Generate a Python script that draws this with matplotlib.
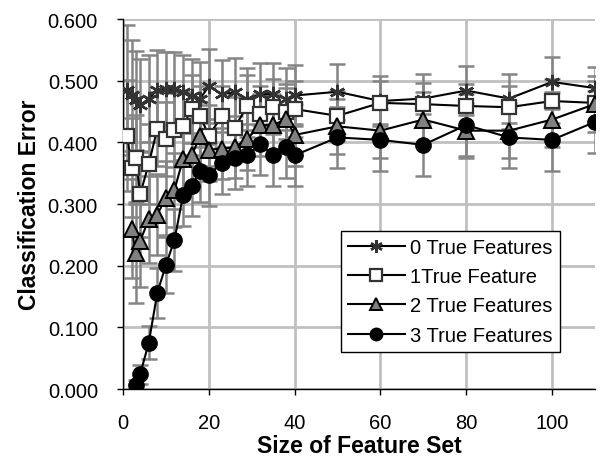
import matplotlib
matplotlib.use("Agg")
import matplotlib.pyplot as plt

plt.rcParams['font.family'] = ['Liberation Sans', 'DejaVu Sans']

x_all = [1, 2, 3, 4, 6, 8, 10, 12, 14, 16, 18, 20, 23, 26, 29, 32, 35, 38, 40,
         50, 60, 70, 80, 90, 100, 110]

y0 = [0.485, 0.476, 0.468, 0.460, 0.471, 0.485, 0.486, 0.486, 0.481, 0.475, 0.471,
      0.491, 0.478, 0.481, 0.470, 0.478, 0.478, 0.470, 0.476,
      0.482, 0.467, 0.471, 0.484, 0.471, 0.498, 0.488]
e0 = [0.105, 0.090, 0.080, 0.075, 0.070, 0.065, 0.060, 0.060, 0.060, 0.060, 0.060,
      0.060, 0.055, 0.055, 0.050, 0.050, 0.050, 0.050, 0.050,
      0.045, 0.040, 0.040, 0.040, 0.040, 0.040, 0.035]

y1 = [0.411, 0.359, 0.374, 0.316, 0.365, 0.422, 0.405, 0.420, 0.426, 0.454, 0.442,
      0.411, 0.442, 0.424, 0.459, 0.446, 0.458, 0.450, 0.454,
      0.443, 0.464, 0.462, 0.459, 0.457, 0.467, 0.464]
e1 = [0.090, 0.080, 0.070, 0.070, 0.065, 0.060, 0.060, 0.060, 0.055, 0.055, 0.050,
      0.050, 0.050, 0.050, 0.050, 0.045, 0.045, 0.045, 0.045,
      0.040, 0.035, 0.035, 0.035, 0.035, 0.035, 0.035]

x2 = x_all[1:]
y2 = [0.260, 0.220, 0.240, 0.275, 0.283, 0.310, 0.323, 0.373, 0.379, 0.410,
      0.388, 0.390, 0.392, 0.406, 0.428, 0.428, 0.438, 0.412,
      0.426, 0.419, 0.437, 0.419, 0.419, 0.437, 0.462]
e2 = [0.080, 0.080, 0.075, 0.070, 0.065, 0.060, 0.060, 0.055, 0.055, 0.055,
      0.050, 0.050, 0.050, 0.050, 0.050, 0.050, 0.050, 0.050,
      0.045, 0.045, 0.045, 0.045, 0.045, 0.045, 0.045]

x3 = x_all[2:]
y3 = [0.007, 0.024, 0.075, 0.156, 0.201, 0.242, 0.314, 0.330, 0.354,
      0.347, 0.367, 0.374, 0.379, 0.397, 0.379, 0.392, 0.379,
      0.408, 0.404, 0.396, 0.428, 0.408, 0.404, 0.433]
e3 = [0.008, 0.015, 0.027, 0.040, 0.045, 0.050, 0.050, 0.050, 0.050,
      0.050, 0.050, 0.050, 0.050, 0.050, 0.050, 0.050, 0.050,
      0.050, 0.050, 0.050, 0.050, 0.050, 0.050, 0.050]

labels = ["0 True Features", "1True Feature", "2 True Features", "3 True Features"]

fig = plt.figure(figsize=(6.05, 4.6), dpi=100)
ax = fig.add_axes([0.2033, 0.152, 0.78, 0.8045])

series = [
    (x_all, y0, e0, dict(marker=(6, 2, 0), markersize=11, markeredgecolor='#333333',
                         markerfacecolor='#333333', markeredgewidth=1.8)),
    (x_all, y1, e1, dict(marker='s', markersize=10.5, markeredgecolor='#333333',
                         markerfacecolor='white', markeredgewidth=1.6)),
    (x2, y2, e2, dict(marker='^', markersize=11.5, markeredgecolor='black',
                      markerfacecolor='#808080', markeredgewidth=1.4)),
    (x3, y3, e3, dict(marker='o', markersize=11, markeredgecolor='black',
                      markerfacecolor='black', markeredgewidth=1.0)),
]

for xs, ys, es, st in series:
    ax.errorbar(xs, ys, yerr=es, fmt='none', ecolor='#858585', elinewidth=1.8,
                capsize=6, capthick=1.8, zorder=2)

handles = []
for (xs, ys, es, st), lab in zip(series, labels):
    h, = ax.plot(xs, ys, color='black', linewidth=1.5, label=lab, zorder=3, **st)
    handles.append(h)

ax.set_xlim(0, 110)
ax.set_ylim(0, 0.6)
ax.set_xticks([0, 20, 40, 60, 80, 100])
ax.set_yticks([0.0, 0.1, 0.2, 0.3, 0.4, 0.5, 0.6])
ax.set_yticklabels([f"{v:.3f}" for v in [0.0, 0.1, 0.2, 0.3, 0.4, 0.5, 0.6]])
ax.grid(True, color='#c0c0c0', linewidth=2.0, zorder=0)
ax.set_axisbelow(True)
for s in ['top', 'right']:
    ax.spines[s].set_visible(False)
for s in ['left', 'bottom']:
    ax.spines[s].set_color('black')
    ax.spines[s].set_linewidth(1.0)
ax.tick_params(direction='out', length=4, width=1, labelsize=14.5)
ax.tick_params(axis='x', pad=13)
ax.tick_params(axis='y', pad=14)

ax.set_xlabel("Size of Feature Set", fontsize=16.5, fontweight='bold', labelpad=2)
ax.set_ylabel("Classification Error", fontsize=16.5, fontweight='bold', labelpad=5)

leg = ax.legend(handles=handles, loc='upper left', bbox_to_anchor=(0.461, 0.428),
                borderaxespad=0, fancybox=False, edgecolor='black', framealpha=1,
                fontsize=14.5, handlelength=2.8, handletextpad=0.25,
                labelspacing=0.5, borderpad=0.38)
leg.get_frame().set_linewidth(1.0)
for lh in leg.legend_handles:
    lh.set_markersize(9)

fig.savefig("out.png", dpi=100)
